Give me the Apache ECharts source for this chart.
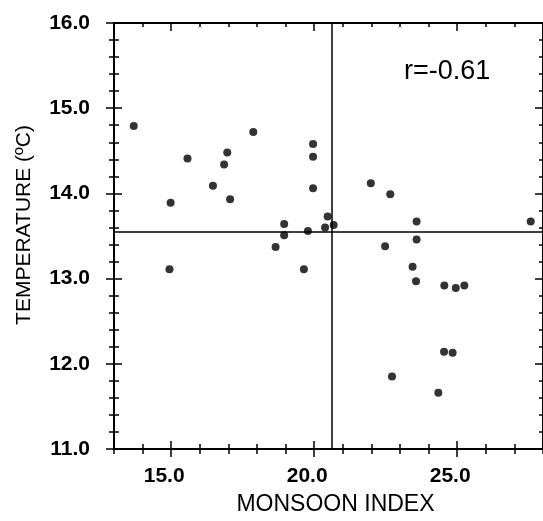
<!DOCTYPE html>
<html>
<head>
<meta charset="utf-8">
<script src="https://cdn.jsdelivr.net/npm/echarts@6/dist/echarts.min.js"></script>
<style>
  html, body { margin: 0; padding: 0; background: #fff; }
  #chart { width: 543px; height: 521px; }
</style>
</head>
<body>
<div id="chart"></div>
<script>
// ============================================================
// 数据：季风指数 vs 温度
// ============================================================

var monsoonIndex = [
  13.69, 14.98, 14.94, 15.57, 16.46, 16.85, 16.96, 17.06, 17.87,
  19.96, 19.96, 19.96, 18.95, 18.95, 18.65, 19.78, 19.64,
  20.47, 20.38, 20.68, 21.98, 22.66, 23.58, 23.58, 22.48,
  23.44, 23.56, 24.55, 24.95, 25.25, 27.57, 24.54, 24.84, 22.72, 24.34
];
var temperature = [
  14.79, 13.89, 13.11, 14.41, 14.09, 14.34, 14.48, 13.93, 14.72,
  14.58, 14.43, 14.06, 13.64, 13.51, 13.37, 13.56, 13.11,
  13.73, 13.60, 13.63, 14.12, 13.99, 13.67, 13.46, 13.38,
  13.14, 12.97, 12.92, 12.89, 12.92, 13.67, 12.14, 12.13, 11.85, 11.66
];

// 均值参考线
var meanIndex = 20.6;
var meanTemp = 13.55;

// 坐标轴刻度
var xRange = [13, 28];
var xMajorTicks = [15, 20, 25];
var yRange = [11, 16];
var corrLabel = 'r=-0.61';

var FONT = '"Liberation Sans", Arial, sans-serif';
var INK = '#000';

// ============================================================
// 坐标轴（用多根重叠的轴画出穿过轴线的刻度）
// ============================================================

function baseX(position, extra) {
  var axis = {
    type: 'value',
    position: position,
    min: xRange[0],
    max: xRange[1],
    interval: 1,
    axisLine: { show: true, lineStyle: { color: INK, width: 2 } },
    axisTick: { show: true, inside: false, length: 5, lineStyle: { color: INK, width: 1.5 } },
    axisLabel: { show: false },
    splitLine: { show: false },
  };
  return Object.assign(axis, extra || {});
}

function baseY(position, extra) {
  var axis = {
    type: 'value',
    position: position,
    min: yRange[0],
    max: yRange[1],
    interval: 1,
    axisLine: { show: true, lineStyle: { color: INK, width: 2 } },
    axisTick: { show: true, inside: false, length: 8, lineStyle: { color: INK, width: 1.5 } },
    minorTick: { show: true, splitNumber: 5, length: 5, lineStyle: { color: INK, width: 1.5 } },
    axisLabel: { show: false },
    splitLine: { show: false },
    minorSplitLine: { show: false },
  };
  return Object.assign(axis, extra || {});
}

var xAxes = [
  baseX('bottom', {
    name: 'MONSOON INDEX',
    nameLocation: 'middle',
    nameGap: 44,
    nameTextStyle: { fontFamily: FONT, fontSize: 23, color: INK, padding: [0, 0, 0, 14] },
    axisLabel: {
      show: true,
      customValues: xMajorTicks,
      margin: 17,
      fontFamily: FONT,
      fontSize: 21,
      fontWeight: 'bold',
      color: INK,
      padding: [0, 14, 0, 0],
      formatter: function(v) { return v.toFixed(1); },
    },
  }),
  baseX('bottom', { axisTick: { show: true, inside: true, length: 5, lineStyle: { color: INK, width: 1.5 } } }),
  baseX('bottom', { axisTick: { show: true, inside: false, length: 8, customValues: xMajorTicks, lineStyle: { color: INK, width: 1.5 } } }),
  baseX('bottom', { axisTick: { show: true, inside: true, length: 8, customValues: xMajorTicks, lineStyle: { color: INK, width: 1.5 } } }),
  baseX('top', { axisTick: { show: true, inside: true, length: 4, lineStyle: { color: INK, width: 1.5 } } }),
  baseX('top', { axisTick: { show: true, inside: true, length: 8, customValues: xMajorTicks, lineStyle: { color: INK, width: 1.5 } } }),
];

var yAxes = [
  baseY('left', {
    name: 'TEMPERATURE (ºC)',
    nameLocation: 'middle',
    nameGap: 79,
    nameRotate: 90,
    nameTextStyle: { fontFamily: FONT, fontSize: 21, color: INK, padding: [0, 0, 0, 22] },
    axisLabel: {
      show: true,
      margin: 24,
      fontFamily: FONT,
      fontSize: 21,
      fontWeight: 'bold',
      color: INK,
      formatter: function(v) { return v.toFixed(1); },
    },
  }),
  baseY('left', {
    axisTick: { show: true, inside: true, length: 8, lineStyle: { color: INK, width: 1.5 } },
    minorTick: { show: true, splitNumber: 5, length: 5, lineStyle: { color: INK, width: 1.5 } },
  }),
  baseY('right', {
    axisTick: { show: true, inside: true, length: 8, lineStyle: { color: INK, width: 1.5 } },
    minorTick: { show: true, splitNumber: 5, length: 4, lineStyle: { color: INK, width: 1.5 } },
  }),
];

// ============================================================
// 渲染
// ============================================================

var chart = echarts.init(document.getElementById('chart'), null, { renderer: 'canvas' });

var points = monsoonIndex.map(function(x, i) { return [x, temperature[i]]; });

chart.setOption({
  animation: false,
  backgroundColor: '#fff',
  grid: { left: 114, top: 23, width: 431, height: 429, containLabel: false },
  xAxis: xAxes,
  yAxis: yAxes,
  graphic: [{
    type: 'text',
    left: 404,
    top: 58,
    style: { text: corrLabel, font: '27px ' + FONT, fill: INK },
  }],
  series: [{
    type: 'scatter',
    xAxisIndex: 0,
    yAxisIndex: 0,
    symbol: 'circle',
    symbolSize: 8,
    itemStyle: { color: INK },
    data: points,
    markLine: {
      silent: true,
      symbol: 'none',
      label: { show: false },
      lineStyle: { color: INK, width: 1.5, type: 'solid' },
      data: [{ xAxis: meanIndex }, { yAxis: meanTemp }],
    },
  }],
});
</script>
</body>
</html>
